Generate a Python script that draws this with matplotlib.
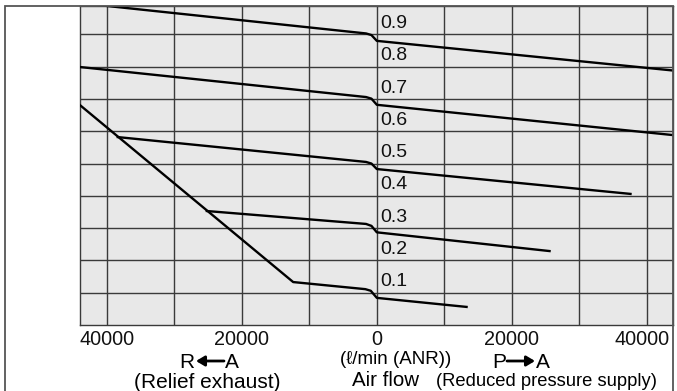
import numpy as np
import matplotlib

matplotlib.use("Agg")
import matplotlib.pyplot as plt
from matplotlib.patches import FancyArrowPatch, Rectangle

# flow [l/min (ANR)], relief side negative; outlet pressure [MPa]
flow_a = [-44000, -1600, -800, 0, 44000]
pres_a = [0.997, 0.903, 0.898, 0.880, 0.788]
flow_b = [-44000, -1600, -800, 0, 44000]
pres_b = [0.799, 0.706, 0.701, 0.682, 0.588]
flow_c = [-38400, -1600, -800, 0, 37600]
pres_c = [0.582, 0.505, 0.500, 0.483, 0.406]
flow_d = [-25200, -1600, -800, 0, 25600]
pres_d = [0.353, 0.313, 0.307, 0.287, 0.229]
flow_e = [-44000, -12400, -1700, -900, 0, 13300]
pres_e = [0.681, 0.133, 0.111, 0.106, 0.084, 0.056]

grid_x = [-40000, -30000, -20000, -10000, 0, 10000, 20000, 30000, 40000]
grid_y = [0.1, 0.2, 0.3, 0.4, 0.5, 0.6, 0.7, 0.8, 0.9]
level_labels = ["0.1", "0.2", "0.3", "0.4", "0.5", "0.6", "0.7", "0.8", "0.9"]
tick_vals = [-40000, -20000, 0, 20000, 39300]
tick_text = ["40000", "20000", "0", "20000", "40000"]

plt.rcParams['font.family'] = ['Liberation Sans', 'DejaVu Sans']

W, H = 677, 391
fig = plt.figure(figsize=(W / 100, H / 100), dpi=100)
fig.patch.set_facecolor('white')


def fx(px):
    return px / W


def fy(py):
    return 1 - py / H


ax = fig.add_axes([fx(80), fy(325), fx(673) - fx(80), fy(6) - fy(325)])
ax.set_facecolor('#e8e8e8')
ax.set_xlim(-44000, 43900)
ax.set_ylim(0, 0.988)
ax.set_xticks(grid_x)
ax.set_yticks(grid_y)
ax.tick_params(length=0, labelbottom=False, labelleft=False)
ax.grid(True, color='#3a3a3a', lw=1.0)
for s in ax.spines.values():
    s.set_color('#3a3a3a')
    s.set_linewidth(1.0)

for fl, pr in [(flow_a, pres_a), (flow_b, pres_b), (flow_c, pres_c),
               (flow_d, pres_d), (flow_e, pres_e)]:
    ax.plot(fl, pr, color='black', lw=1.7, solid_joinstyle='round', zorder=3)

for lv, lab in zip(grid_y, level_labels):
    ax.text(450, lv + 0.02, lab, ha='left', va='baseline', fontsize=14,
            color='#111111', zorder=4)

for tv, tt in zip(tick_vals, tick_text):
    ax.text(tv, -0.045, tt, ha='center', va='center', fontsize=14.3,
            clip_on=False, color='#111111')

# outer frame (open at the bottom)
fig.add_artist(Rectangle((fx(5), -0.2), fx(673) - fx(5), fy(6) + 0.2,
                         transform=fig.transFigure, fill=False,
                         ec='#555555', lw=1.3))

# bottom captions
fig.text(fx(187), fy(362), "R", ha='center', va='center', fontsize=15)
fig.text(fx(232), fy(362), "A", ha='center', va='center', fontsize=15)
fig.add_artist(FancyArrowPatch((fx(224), fy(361)), (fx(196), fy(361)),
                               transform=fig.transFigure,
                               arrowstyle='-|>,head_length=5,head_width=3',
                               color='black', lw=2, shrinkA=0, shrinkB=0))
fig.text(fx(207), fy(382), "(Relief exhaust)", ha='center', va='center', fontsize=15)

fig.text(fx(396), fy(360), "(\u2113/min (ANR))", ha='center', va='center', fontsize=13.5)
fig.text(fx(386), fy(380), "Air flow", ha='center', va='center', fontsize=14.8)
fig.text(fx(546), fy(381), "(Reduced pressure supply)", ha='center', va='center', fontsize=13.2)

fig.text(fx(499), fy(362), "P", ha='center', va='center', fontsize=15)
fig.text(fx(543), fy(362), "A", ha='center', va='center', fontsize=15)
fig.add_artist(FancyArrowPatch((fx(507), fy(361)), (fx(535), fy(361)),
                               transform=fig.transFigure,
                               arrowstyle='-|>,head_length=5,head_width=3',
                               color='black', lw=2, shrinkA=0, shrinkB=0))

fig.savefig("out.png", dpi=100)
